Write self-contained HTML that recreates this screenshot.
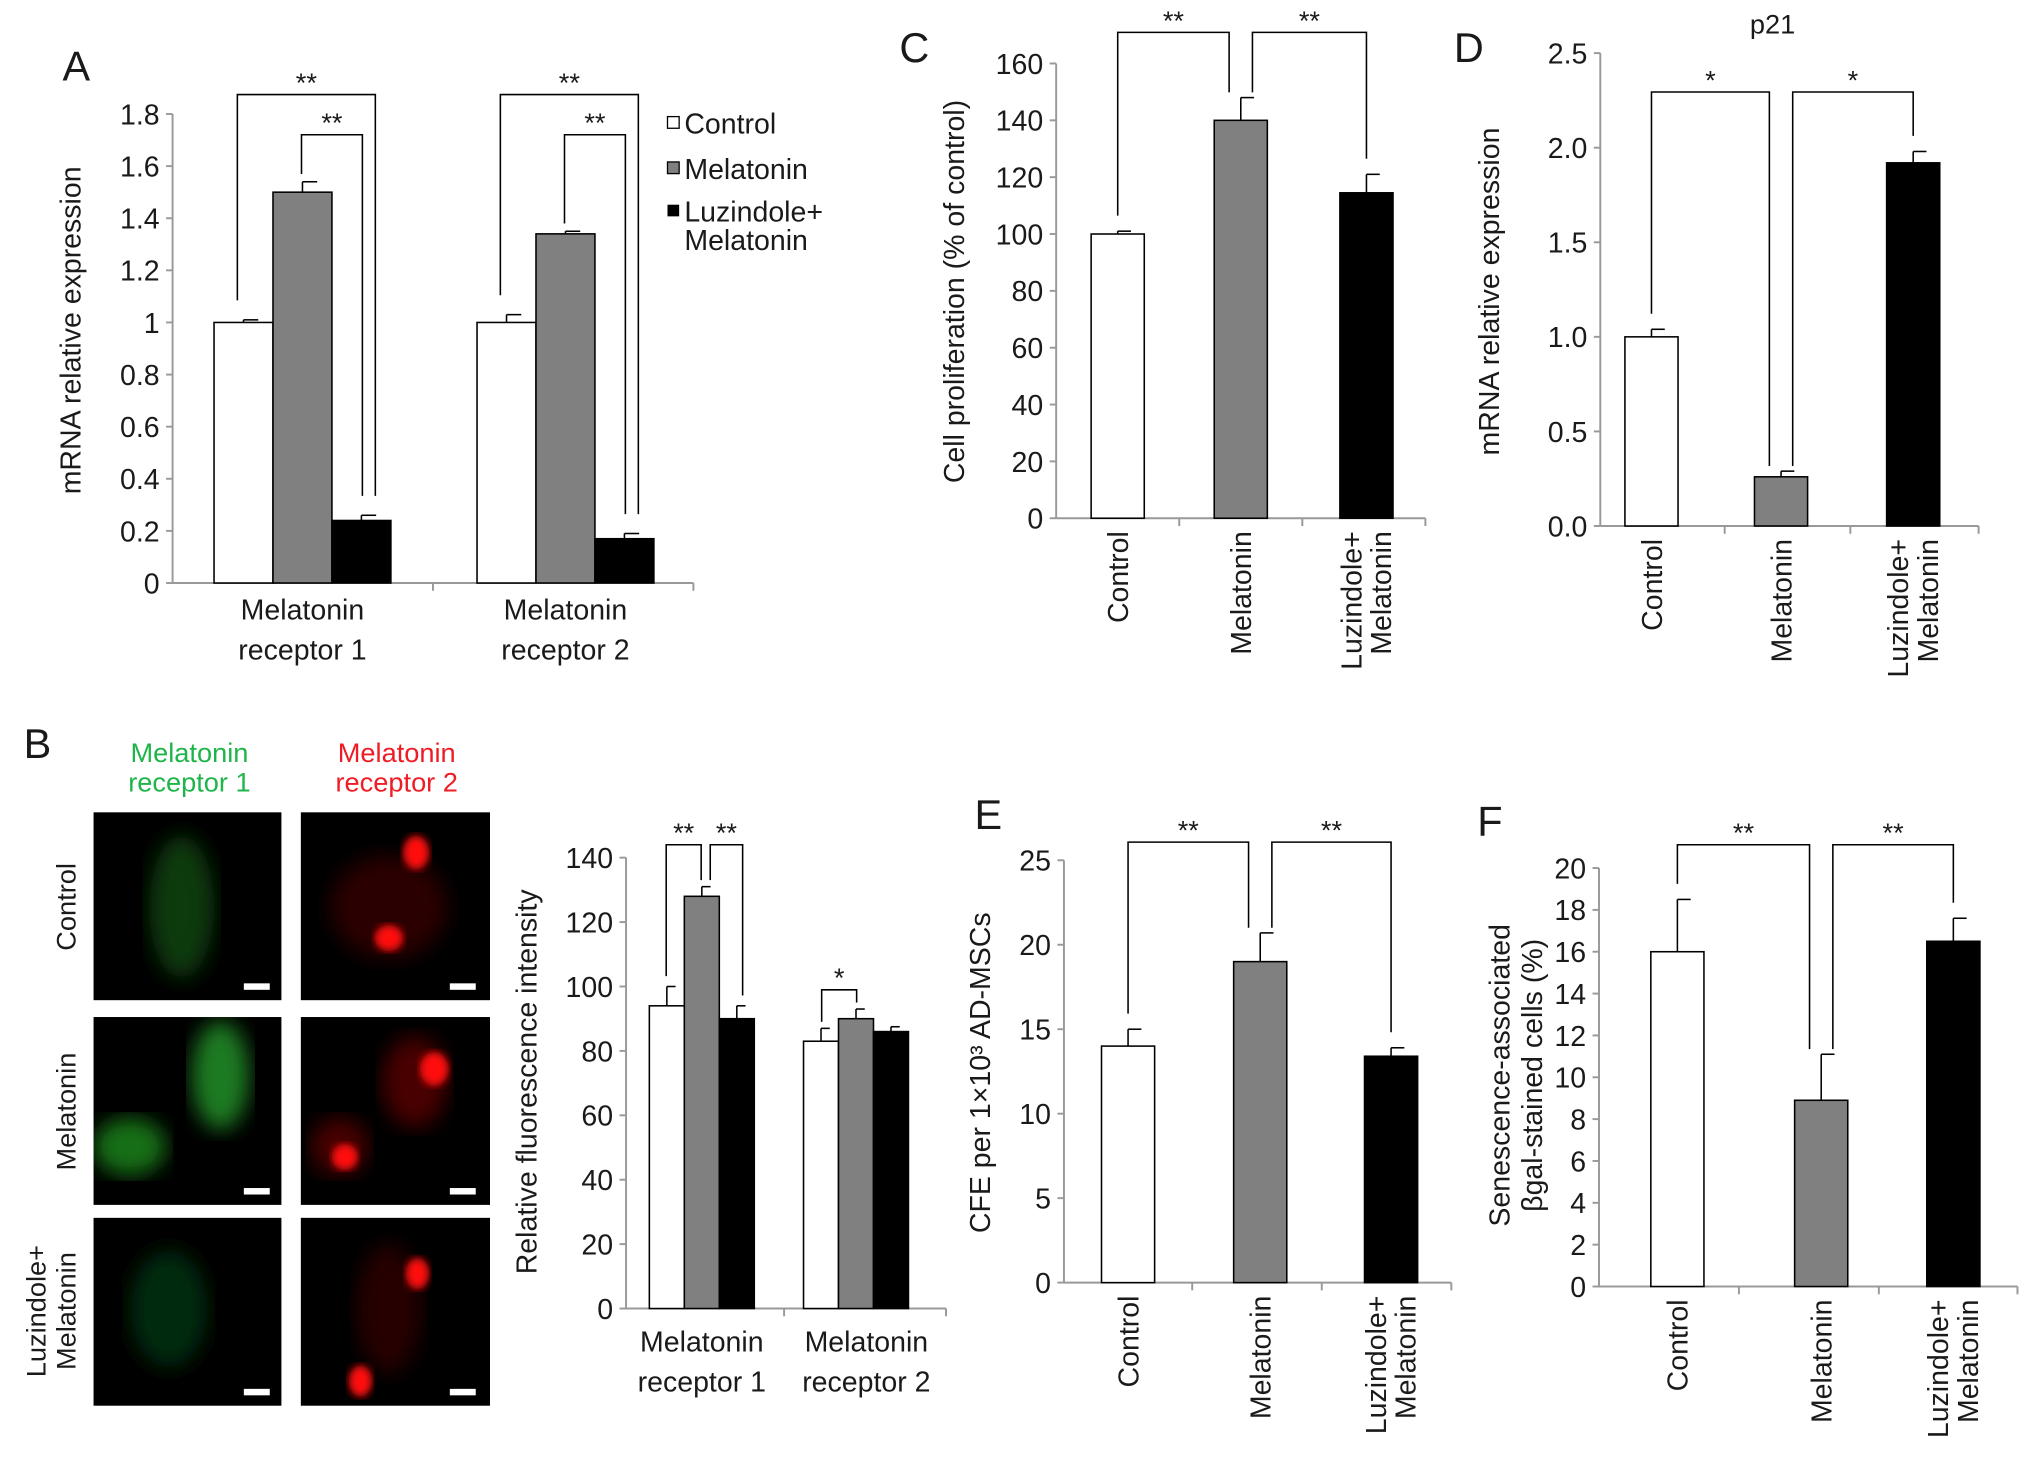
<!DOCTYPE html>
<html><head><meta charset="utf-8"><style>
html,body{margin:0;padding:0;background:#fff}
svg{display:block}
text{font-family:"Liberation Sans",sans-serif;fill:#1a1a1a}
</style></head><body>
<svg id="fig" width="2032" height="1464" viewBox="0 0 1568 1130" xmlns="http://www.w3.org/2000/svg">
<defs>
<filter id="blur4"><feGaussianBlur stdDeviation="3"/></filter>
<filter id="blur8"><feGaussianBlur stdDeviation="8"/></filter>
<clipPath id="c1"><rect x="72" y="627" width="145" height="145"/></clipPath>
<clipPath id="c2"><rect x="232" y="627" width="146" height="145"/></clipPath>
<clipPath id="c3"><rect x="72" y="785" width="145" height="145"/></clipPath>
<clipPath id="c4"><rect x="232" y="785" width="146" height="145"/></clipPath>
<clipPath id="c5"><rect x="72" y="940" width="145" height="145"/></clipPath>
<clipPath id="c6"><rect x="232" y="940" width="146" height="145"/></clipPath>
</defs>
<g id="static">
<text x="48" y="62" font-size="32">A</text>
<text x="18" y="585" font-size="32">B</text>
<text x="694" y="48" font-size="32">C</text>
<text x="1122" y="48" font-size="32">D</text>
<text x="752" y="640" font-size="32">E</text>
<text x="1140" y="645" font-size="32">F</text>
<text x="1368" y="26" font-size="21" text-anchor="middle">p21</text>
<g>
<rect x="515" y="90" width="9" height="9" fill="#fff" stroke="#000"/><text x="528" y="103" font-size="22">Control</text>
<rect x="515" y="125" width="9" height="9" fill="#808080" stroke="#000"/><text x="528" y="138" font-size="22">Melatonin</text>
<rect x="515" y="158" width="9" height="9" fill="#000"/><text x="528" y="171" font-size="22">Luzindole+</text>
<text x="528" y="193" font-size="22">Melatonin</text>
</g>
<text x="146" y="588" font-size="21" text-anchor="middle" style="fill:#1fb54a">Melatonin</text>
<text x="146" y="611" font-size="21" text-anchor="middle" style="fill:#1fb54a">receptor 1</text>
<text x="306" y="588" font-size="21" text-anchor="middle" style="fill:#ee1c24">Melatonin</text>
<text x="306" y="611" font-size="21" text-anchor="middle" style="fill:#ee1c24">receptor 2</text>
<text transform="translate(58,700) rotate(-90)" font-size="21" text-anchor="middle">Control</text>
<text transform="translate(58,858) rotate(-90)" font-size="21" text-anchor="middle">Melatonin</text>
<text transform="translate(35,1012) rotate(-90)" font-size="21" text-anchor="middle">Luzindole+</text>
<text transform="translate(58,1012) rotate(-90)" font-size="21" text-anchor="middle">Melatonin</text>
<g>
<rect x="72" y="627" width="145" height="145" fill="#000"/>
<g clip-path="url(#c1)"><ellipse cx="140" cy="700" rx="25" ry="55" fill="#0a3a10" filter="url(#blur8)"/></g>
<rect x="232" y="627" width="146" height="145" fill="#000"/>
<g clip-path="url(#c2)"><ellipse cx="300" cy="700" rx="45" ry="40" fill="#2a0404" filter="url(#blur8)"/>
<ellipse cx="321" cy="658" rx="10" ry="13" fill="#ff1010" filter="url(#blur4)"/>
<ellipse cx="300" cy="724" rx="11" ry="10" fill="#ff1010" filter="url(#blur4)"/></g>
<rect x="72" y="785" width="145" height="145" fill="#000"/>
<g clip-path="url(#c3)"><ellipse cx="170" cy="830" rx="22" ry="42" fill="#1a7a20" filter="url(#blur8)"/>
<ellipse cx="100" cy="885" rx="28" ry="22" fill="#167018" filter="url(#blur8)"/></g>
<rect x="232" y="785" width="146" height="145" fill="#000"/>
<g clip-path="url(#c4)"><ellipse cx="320" cy="835" rx="25" ry="35" fill="#4a0606" filter="url(#blur8)"/>
<ellipse cx="262" cy="885" rx="22" ry="22" fill="#4a0606" filter="url(#blur8)"/>
<ellipse cx="335" cy="825" rx="11" ry="13" fill="#ff1010" filter="url(#blur4)"/>
<ellipse cx="266" cy="893" rx="10" ry="10" fill="#ff1010" filter="url(#blur4)"/></g>
<rect x="72" y="940" width="145" height="145" fill="#000"/>
<g clip-path="url(#c5)"><ellipse cx="130" cy="1010" rx="30" ry="45" fill="#062a08" filter="url(#blur8)"/></g>
<rect x="232" y="940" width="146" height="145" fill="#000"/>
<g clip-path="url(#c6)"><ellipse cx="300" cy="1010" rx="25" ry="50" fill="#260303" filter="url(#blur8)"/>
<ellipse cx="322" cy="983" rx="9" ry="12" fill="#ff1010" filter="url(#blur4)"/>
<ellipse cx="278" cy="1066" rx="9" ry="12" fill="#ff1010" filter="url(#blur4)"/></g>
<rect x="188" y="759" width="20" height="5" fill="#fff"/><rect x="347" y="759" width="20" height="5" fill="#fff"/>
<rect x="188" y="917" width="20" height="5" fill="#fff"/><rect x="347" y="917" width="20" height="5" fill="#fff"/>
<rect x="188" y="1072" width="20" height="5" fill="#fff"/><rect x="347" y="1072" width="20" height="5" fill="#fff"/>
</g>
</g>
<g id="charts"></g>
</svg>
<script>
// Panel A
const aCategories = ["Melatonin receptor 1","Melatonin receptor 2"];
const aControl = [1.0, 1.0];
const aMelatonin = [1.5, 1.34];
const aLuzindole = [0.24, 0.17];
const aErrControl = [0.01, 0.03];
const aErrMelatonin = [0.04, 0.01];
const aErrLuzindole = [0.02, 0.02];
const aTicks = ["0","0.2","0.4","0.6","0.8","1","1.2","1.4","1.6","1.8"];
// Panel B
const bControl = [94, 83];
const bMelatonin = [128, 90];
const bLuzindole = [90, 86];
const bErrControl = [6, 4];
const bErrMelatonin = [3, 3];
const bErrLuzindole = [4, 1.5];
const bTicks = ["0","20","40","60","80","100","120","140"];
// Panel C
const cGroups = ["Control","Melatonin","Luzindole+|Melatonin"];
const cValues = [100, 140, 114.5];
const cErrors = [1, 8, 6.5];
const cTicks = ["0","20","40","60","80","100","120","140","160"];
// Panel D
const dValues = [1.0, 0.26, 1.92];
const dErrors = [0.04, 0.03, 0.06];
const dTicks = ["0.0","0.5","1.0","1.5","2.0","2.5"];
// Panel E
const eValues = [14, 19, 13.4];
const eErrors = [1, 1.7, 0.5];
const eTicks = ["0","5","10","15","20","25"];
// Panel F
const fValues = [16, 8.9, 16.5];
const fErrors = [2.5, 2.2, 1.1];
const fTicks = ["0","2","4","6","8","10","12","14","16","18","20"];

const NS="http://www.w3.org/2000/svg";
const root=document.getElementById('charts');
function mk(tag,attrs,parent){const e=document.createElementNS(NS,tag);for(const k in attrs)e.setAttribute(k,attrs[k]);(parent||root).appendChild(e);return e;}
function txt(x,y,s,size,anchor,parent,rot){const t=mk('text',{x:x,y:y,'font-size':size,'text-anchor':anchor||'start'},parent);if(rot)t.setAttribute('transform','rotate(-90 '+x+' '+y+')');t.textContent=s;return t;}
const fills=["#fff","#808080","#000"];

function axes(g,ax){
  const yS=v=>ax.y0-(v-ax.min)/(ax.max-ax.min)*(ax.y0-ax.y1);
  mk('line',{x1:ax.x0,y1:ax.y0,x2:ax.x0,y2:ax.y1,stroke:'#999','stroke-width':1.5},g);
  mk('line',{x1:ax.x0,y1:ax.y0,x2:ax.xEnd,y2:ax.y0,stroke:'#999','stroke-width':1.5},g);
  ax.ticks.forEach(t=>{const y=yS(parseFloat(t));
    mk('line',{x1:ax.x0-5,y1:y,x2:ax.x0,y2:y,stroke:'#999','stroke-width':1.5},g);
    txt(ax.x0-10,y+8,t,22,'end',g);});
  (ax.xt||[]).forEach(x=>mk('line',{x1:x,y1:ax.y0,x2:x,y2:ax.y0+6,stroke:'#999','stroke-width':1.5},g));
  return yS;
}
function bar(g,yS,x,w,v,err,fill,name){
  const b=mk('rect',{x:x,y:yS(v),width:w,height:yS(0)-yS(v),fill:fill,stroke:'#000','stroke-width':1.2},g);
  
  
  const cx=x+w/2,ye=yS(v+err);
  mk('line',{x1:cx,y1:yS(v),x2:cx,y2:ye,stroke:'#000','stroke-width':1.2},g);
  mk('line',{x1:cx,y1:ye,x2:cx+w*0.25,y2:ye,stroke:'#000','stroke-width':1.2},g);
}
function bracket(g,x1,yl,x2,yr,top,label,size){
  mk('polyline',{points:`${x1},${yl} ${x1},${top} ${x2},${top} ${x2},${yr}`,fill:'none',stroke:'#000','stroke-width':1.2},g);
  txt((x1+x2)/2,top-2,label,size||21,'middle',g);
}

(function(){
  const g=mk('g',{});
  const yS=axes(g,{x0:133,y0:450,y1:88,min:0,max:1.8,xEnd:535,ticks:aTicks,xt:[334,535]});
  const starts=[165,368],w=45.5;
  [aControl,aMelatonin,aLuzindole].forEach((s,i)=>{const e=[aErrControl,aErrMelatonin,aErrLuzindole][i];
    s.forEach((v,k)=>bar(g,yS,starts[k]+i*w,w,v,e[k],fills[i],'bar-a-'+k+'-'+i));});
  aCategories.forEach((c,k)=>{const cx=starts[k]+1.5*w;const p=c.split(' ');
    txt(cx,478,p[0],22,'middle',g);txt(cx,509,p[1]+' '+p[2],22,'middle',g);});
  txt(62,255,"mRNA relative expression",22,'middle',g,true);
  [0,1].forEach(k=>{const s=starts[k];
    bracket(g,s+18,yS(aControl[k]+aErrControl[k])-15,s+3*w-12,yS(aLuzindole[k]+aErrLuzindole[k])-15,73,'**');
    bracket(g,s+w+22,yS(aMelatonin[k]+aErrMelatonin[k])-6,s+3*w-22,yS(aLuzindole[k]+aErrLuzindole[k])-15,104,'**');});
})();
(function(){
  const g=mk('g',{});
  const yS=axes(g,{x0:483,y0:1010,y1:662,min:0,max:140,xEnd:730,ticks:bTicks,xt:[605,730]});
  const starts=[501,620],w=27;
  [bControl,bMelatonin,bLuzindole].forEach((s,i)=>{const e=[bErrControl,bErrMelatonin,bErrLuzindole][i];
    s.forEach((v,k)=>bar(g,yS,starts[k]+i*w,w,v,e[k],fills[i],'bar-b-'+k+'-'+i));});
  ["receptor 1","receptor 2"].forEach((r,k)=>{const cx=starts[k]+1.5*w+(k?8:0);
    txt(cx,1043,"Melatonin",22,'middle',g);txt(cx,1074,r,22,'middle',g);});
  txt(414,835,"Relative fluorescence intensity",22,'middle',g,true);
  bracket(g,514,yS(bControl[0]+bErrControl[0])-8,541,yS(bMelatonin[0]+bErrMelatonin[0])-5,652,'**');
  bracket(g,548,yS(bMelatonin[0]+bErrMelatonin[0])-5,573,yS(bLuzindole[0]+bErrLuzindole[0])-8,652,'**');
  bracket(g,634,yS(bControl[1]+bErrControl[1])-5,661,yS(bMelatonin[1]+bErrMelatonin[1])-5,764,'*');
})();
function single(name,ax,xs,w,vals,errs,ytitle,ytx,yty,br,brTop,brLab){
  const g=mk('g',{});
  const yS=axes(g,ax);
  vals.forEach((v,i)=>bar(g,yS,xs[i],w,v,errs[i],fills[i],name+'-bar-'+i));
  cGroups.forEach((c,i)=>{const p=c.split('|');const cx=xs[i]+w/2;
    if(p.length===1) txt(cx+8,ax.y0+10,p[0],22,'end',g,true);
    else {txt(cx-4,ax.y0+10,p[0],22,'end',g,true);txt(cx+19,ax.y0+10,p[1],22,'end',g,true);}});
  ytitle.forEach((t,j)=>txt(ytx+j*25,yty,t,22,'middle',g,true));
  const top=i=>yS(vals[i]+errs[i]);
  bracket(g,xs[0]+w/2,top(0)-12,xs[1]+w/2-9,top(1)-4,brTop,brLab);
  bracket(g,xs[1]+w/2+9,top(1)-4,xs[2]+w/2,top(2)-12,brTop,brLab);
}
single('panel-c-chart',{x0:815,y0:400,y1:49,min:0,max:160,xEnd:1100,ticks:cTicks,xt:[910,1005,1100]},[842,937,1034],41,cValues,cErrors,["Cell proliferation (% of control)"],744,225,0,25,'**');
single('panel-d-chart',{x0:1235,y0:406,y1:41,min:0,max:2.5,xEnd:1527,ticks:dTicks,xt:[1331,1428,1527]},[1254,1354,1456],41,dValues,dErrors,["mRNA relative expression"],1157,225,0,71,'*');
single('panel-e-chart',{x0:821,y0:990,y1:664,min:0,max:25,xEnd:1120,ticks:eTicks,xt:[920,1020,1120]},[850,952,1053],41,eValues,eErrors,["CFE per 1×10³ AD-MSCs"],764,828,0,650,'**');
single('panel-f-chart',{x0:1234,y0:993,y1:670,min:0,max:20,xEnd:1557,ticks:fTicks,xt:[1342,1450,1557]},[1274,1385,1487],41,fValues,fErrors,["Senescence-associated","βgal-stained cells (%)"],1165,830,0,652,'**');
</script>
</body></html>
